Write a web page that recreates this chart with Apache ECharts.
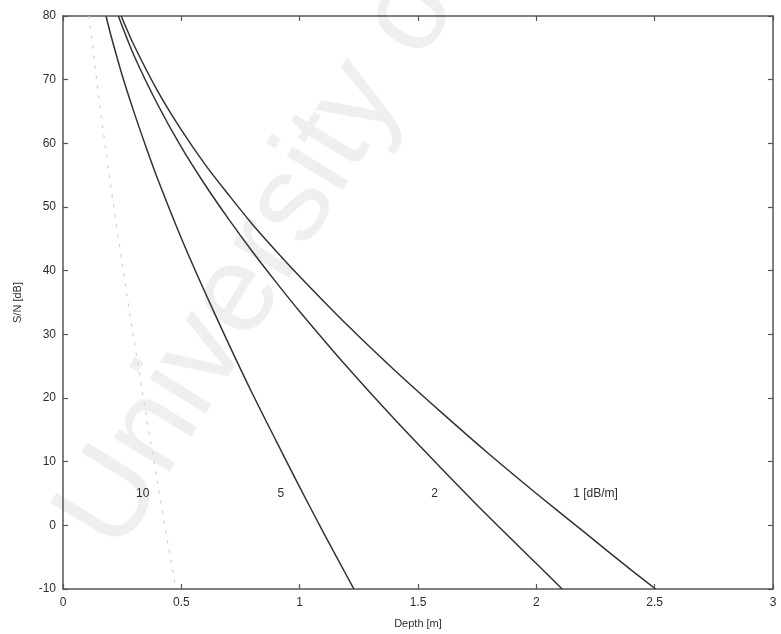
<!DOCTYPE html>
<html>
<head>
<meta charset="utf-8">
<script src="https://cdn.jsdelivr.net/npm/echarts@6/dist/echarts.min.js"></script>
<style>
  html, body { margin: 0; padding: 0; background: #fff; }
  #chart { width: 781px; height: 634px; }
</style>
</head>
<body>
<div id="chart"></div>
<script>
// Signal-to-noise ratio versus depth for several attenuation rates.
// Each curve: [depth (m), S/N (dB)]
const curve1dB = [
  [0.246, 80.0], [0.3, 75.4], [0.4, 68.2], [0.5, 62.1], [0.6, 56.7],
  [0.7, 51.9], [0.8, 47.3], [0.9, 43.1], [1.0, 39.1], [1.2, 31.5],
  [1.4, 24.4], [1.6, 17.7], [1.8, 11.2], [2.0, 5.0], [2.2, -1.0],
  [2.4, -7.0], [2.504, -10.0]
];
const curve2dB = [
  [0.234, 80.0], [0.3, 73.8], [0.4, 66.1], [0.5, 59.4], [0.6, 53.5],
  [0.7, 48.1], [0.8, 43.0], [0.9, 38.2], [1.0, 33.6], [1.2, 24.9],
  [1.4, 16.7], [1.6, 8.9], [1.8, 1.3], [2.0, -6.0], [2.109, -10.0]
];
const curve5dB = [
  [0.182, 80.0], [0.2, 77.3], [0.25, 70.7], [0.3, 64.9], [0.35, 59.5],
  [0.4, 54.4], [0.5, 45.1], [0.6, 36.6], [0.7, 28.5], [0.8, 20.7],
  [0.9, 13.3], [1.0, 6.0], [1.1, -1.1], [1.229, -10.0]
];
const curve10dB = [
  [0.11, 80.0], [0.15, 67.6], [0.2, 53.8], [0.25, 41.1], [0.3, 29.1],
  [0.35, 17.6], [0.4, 6.5], [0.45, -4.3], [0.477, -10.0]
];

// Curve annotations placed in data coordinates
const curveLabels = ['10', '5', '2', '1 [dB/m]'];
const curveLabelPos = [[0.337, 4.9], [0.92, 4.9], [1.57, 4.9], [2.25, 4.9]];

const xTicks = [0, 0.5, 1, 1.5, 2, 2.5, 3];
const yTicks = [-10, 0, 10, 20, 30, 40, 50, 60, 70, 80];

const ink = '#2e2e2e';
const font = 'Liberation Sans, Arial, sans-serif';

const chart = echarts.init(document.getElementById('chart'), null, { renderer: 'canvas' });

const frameAxis = {
  axisLine: { show: true, onZero: false, lineStyle: { color: '#555', width: 1.5 } },
  axisTick: { show: true, inside: true, length: 5, lineStyle: { color: '#555', width: 1.2 } },
  splitLine: { show: false }
};

chart.setOption({
  backgroundColor: '#fff',
  animation: false,
  graphic: [{
    type: 'text',
    x: 142, y: 570,
    rotation: 1.02,
    z: -10,
    silent: true,
    style: {
      text: 'University of Cape Town',
      font: '124px ' + font,
      fill: '#efefef',
      textAlign: 'left',
      textVerticalAlign: 'bottom'
    }
  }],
  grid: { left: 63, right: 8, top: 16, bottom: 44, containLabel: false },
  xAxis: [
    Object.assign({
      type: 'value', min: xTicks[0], max: xTicks[xTicks.length - 1], interval: 0.5,
      name: 'Depth [m]', nameLocation: 'middle', nameGap: 29,
      nameTextStyle: { color: ink, fontSize: 11, fontFamily: font },
      axisLabel: { color: ink, fontSize: 12, fontFamily: font, margin: 8,
        formatter: v => String(v) }
    }, frameAxis),
    Object.assign({
      type: 'value', position: 'top', min: xTicks[0], max: xTicks[xTicks.length - 1], interval: 0.5,
      axisLabel: { show: false }
    }, frameAxis)
  ],
  yAxis: [
    Object.assign({
      type: 'value', min: yTicks[0], max: yTicks[yTicks.length - 1], interval: 10,
      name: 'S/N [dB]', nameLocation: 'middle', nameGap: 40, nameRotate: 90,
      nameTextStyle: { color: ink, fontSize: 11, fontFamily: font },
      axisLabel: { color: ink, fontSize: 12, fontFamily: font, margin: 7 }
    }, frameAxis),
    Object.assign({
      type: 'value', position: 'right', min: yTicks[0], max: yTicks[yTicks.length - 1], interval: 10,
      axisLabel: { show: false }
    }, frameAxis)
  ],
  series: [
    { type: 'line', data: curve1dB, smooth: 0.3, showSymbol: false, lineStyle: { color: '#333', width: 1.5 } },
    { type: 'line', data: curve2dB, smooth: 0.3, showSymbol: false, lineStyle: { color: '#333', width: 1.5 } },
    { type: 'line', data: curve5dB, smooth: 0.3, showSymbol: false, lineStyle: { color: '#333', width: 1.5 } },
    { type: 'line', data: curve10dB, smooth: 0.3, showSymbol: false,
      lineStyle: { color: '#d0d0d0', width: 1.2, type: [3, 7] } },
    {
      type: 'scatter',
      symbolSize: 1,
      itemStyle: { opacity: 0 },
      data: curveLabelPos.map((p, i) => ({ value: p, name: curveLabels[i] })),
      label: {
        show: true, position: 'inside', formatter: p => p.name, opacity: 1,
        color: ink, fontSize: 12, fontFamily: font
      }
    }
  ]
});
</script>
</body>
</html>
